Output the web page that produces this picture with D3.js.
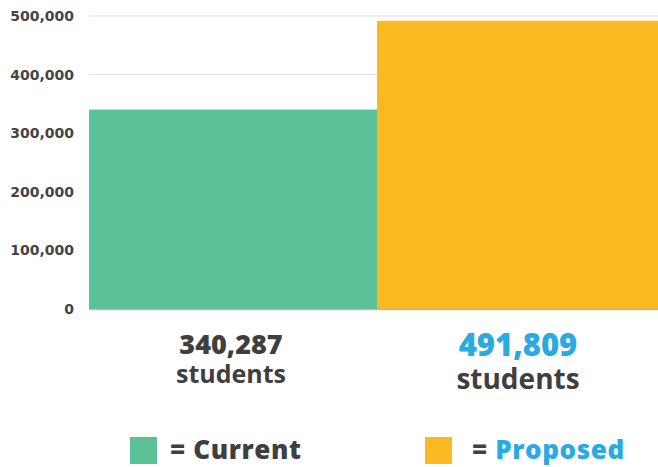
<!DOCTYPE html>
<html>
<head>
<meta charset="utf-8">
<script src="https://cdn.jsdelivr.net/npm/d3@7"></script>
<style>
  body { margin: 0; background: #fff; }
</style>
</head>
<body>
<svg class="chart" width="658" height="467"></svg>
<script>
const categories = ['Current', 'Proposed'];
const values = [340287, 491809];
const valueLabels = ['340,287', '491,809'];
const tickValues = [0, 100000, 200000, 300000, 400000, 500000];

const colors = ['#5bc196', '#fbb921'];
const textColor = '#3f3f41';
const blue = '#29aae1';
const font = '"Open Sans", Lato, sans-serif';

const svg = d3.select('.chart');

// second bar runs past the right edge in the original
const x = d3.scaleBand()
    .domain(categories)
    .range([89, 665])
    .padding(0);

const y = d3.scaleLinear()
    .domain([0, 500000])
    .range([309, 16]);

// gridlines
svg.append('g')
    .selectAll('line')
    .data(tickValues.slice(1))
    .enter().append('line')
    .attr('x1', 89)
    .attr('x2', 658)
    .attr('y1', d => y(d))
    .attr('y2', d => y(d))
    .attr('stroke', '#dedede')
    .attr('stroke-width', 1);

// y axis labels
const yAxis = d3.axisLeft(y)
    .tickValues(tickValues)
    .tickFormat(d3.format(','))
    .tickSize(0)
    .tickPadding(0);

const axisG = svg.append('g')
    .attr('transform', 'translate(74,0)')
    .call(yAxis);
axisG.select('.domain').remove();
axisG.attr('font-family', null).attr('font-size', null);
axisG.selectAll('text')
    .attr('font-family', '"DejaVu Sans", sans-serif')
    .attr('font-size', 14)
    .attr('font-weight', 700)
    .attr('fill', '#444');

// bars
svg.append('g')
    .selectAll('rect')
    .data(values)
    .enter().append('rect')
    .attr('x', (d, i) => x(categories[i]))
    .attr('width', x.bandwidth())
    .attr('y', d => y(d))
    .attr('height', d => y(0) - y(d))
    .attr('fill', (d, i) => colors[i]);

// baseline
svg.append('line')
    .attr('x1', 89).attr('x2', 658)
    .attr('y1', y(0) + 0.5).attr('y2', y(0) + 0.5)
    .attr('stroke', '#b9b9b9')
    .attr('stroke-width', 1.5);

// value labels under bars (number + "students" as one text block)
const labelX = [231, 518];
const numY = [354, 356];
const numSize = [27, 31];
const wordGap = [29, 33];
const wordSize = [25, 28];

const labels = svg.append('g')
    .selectAll('text')
    .data(valueLabels)
    .enter().append('text')
    .attr('y', (d, i) => numY[i])
    .attr('text-anchor', 'middle')
    .attr('font-family', font)
    .attr('fill', textColor);

labels.append('tspan')
    .attr('x', (d, i) => labelX[i])
    .attr('font-size', (d, i) => numSize[i])
    .attr('font-weight', 800)
    .attr('fill', (d, i) => i === 1 ? blue : textColor)
    .text(d => d);

labels.append('tspan')
    .attr('x', (d, i) => labelX[i])
    .attr('dy', (d, i) => wordGap[i])
    .attr('font-size', (d, i) => wordSize[i])
    .attr('font-weight', 700)
    .text('students');

// legend
const legendX = [130, 425];
const legend = svg.append('g')
    .selectAll('g')
    .data(categories)
    .enter().append('g')
    .attr('transform', (d, i) => 'translate(' + legendX[i] + ',437)');

legend.append('rect')
    .attr('width', 27)
    .attr('height', 27)
    .attr('fill', (d, i) => colors[i]);

const legendText = legend.append('text')
    .attr('x', (d, i) => i === 0 ? 40 : 47)
    .attr('y', 22)
    .attr('font-family', font)
    .attr('font-size', 26)
    .attr('font-weight', 800)
    .attr('letter-spacing', 0.6)
    .attr('fill', textColor);

legendText.append('tspan').text('= ');
legendText.append('tspan')
    .attr('fill', (d, i) => i === 1 ? blue : textColor)
    .text(d => d);
</script>
</body>
</html>
